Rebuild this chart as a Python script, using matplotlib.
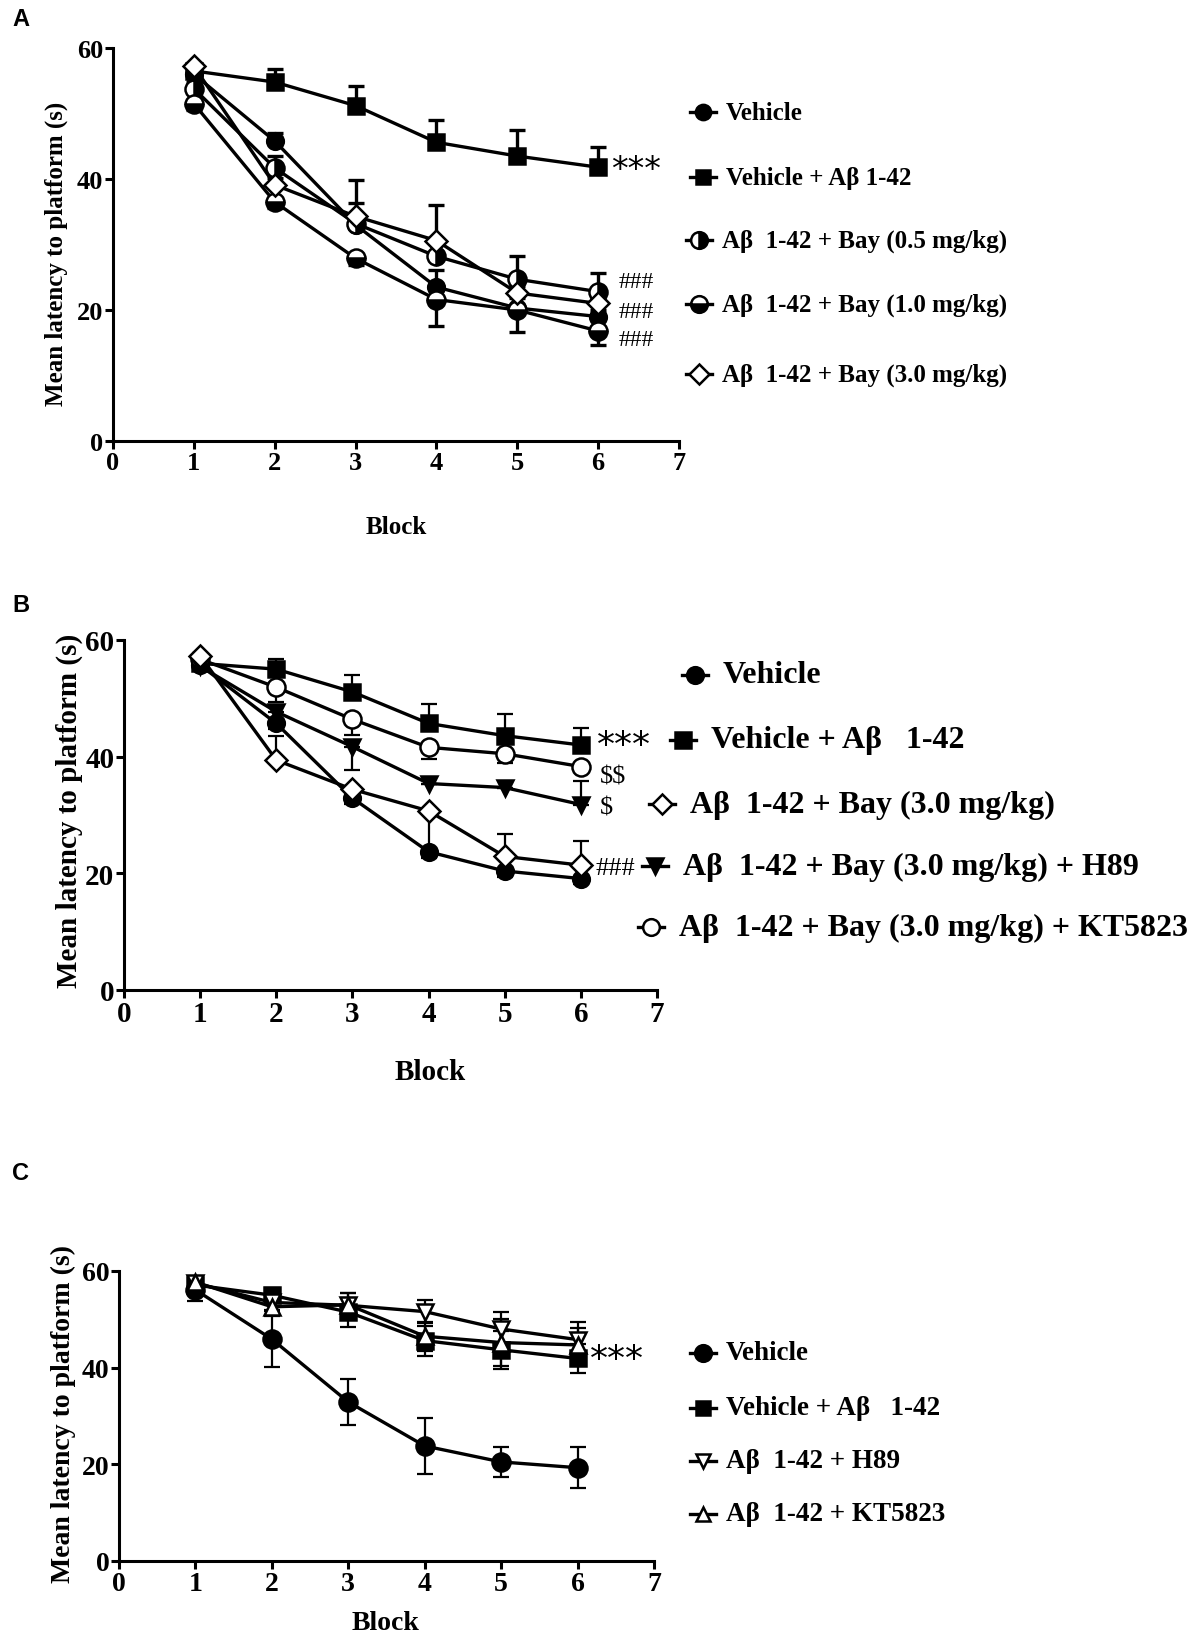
import matplotlib
matplotlib.use("Agg")
import matplotlib.pyplot as plt
from matplotlib.lines import Line2D

plt.rcParams["text.parse_math"] = False

W, H = 1200, 1649
SERIF = "Liberation Serif"

blocks = [1, 2, 3, 4, 5, 6]

# ---------------- Panel A data ----------------
A_vehicle = [56.0, 45.8, 33.0, 23.5, 20.3, 19.0]
A_vehicle_up = [0.8, 1.2, 1.5, 2.6, 1.5, 1.0]
A_abeta = [56.5, 54.8, 51.2, 45.6, 43.5, 41.8]
A_abeta_up = [0.6, 2.0, 3.0, 3.4, 4.0, 3.1]
A_bay05 = [53.8, 41.7, 33.2, 28.2, 24.7, 22.8]
A_bay05_up = [1.0, 1.8, 6.6, 2.0, 3.6, 2.8]
A_bay10 = [51.5, 36.5, 27.9, 21.6, 20.0, 16.8]
A_bay10_dn = [1.0, 1.0, 1.0, 4.0, 3.3, 2.1]
A_bay30 = [57.2, 39.1, 34.3, 30.6, 22.6, 21.0]
A_bay30_up = [0.5, 1.0, 2.0, 5.4, 1.0, 1.0]

# ---------------- Panel B data ----------------
B_vehicle = [55.7, 45.7, 32.9, 23.7, 20.4, 19.1]
B_vehicle_dn = [0.5, 1.0, 1.0, 1.0, 1.0, 1.0]
B_abeta = [56.0, 55.0, 51.1, 45.7, 43.6, 42.0]
B_abeta_up = [0.6, 1.7, 2.9, 3.3, 3.8, 3.0]
B_bay30 = [57.3, 39.4, 34.4, 30.7, 22.9, 21.4]
B_bay30_up = [0.5, 4.1, 0.0, 0.0, 3.8, 4.1]
B_bay30_dn = [0.0, 0.0, 0.0, 6.8, 0.0, 0.0]
B_h89 = [55.5, 47.7, 41.7, 35.4, 34.7, 31.8]
B_h89_up = [0.0, 0.0, 0.0, 0.0, 0.0, 4.0]
B_h89_dn = [0.0, 2.5, 4.0, 0.0, 0.0, 0.0]
B_kt = [56.7, 51.9, 46.4, 41.6, 40.5, 38.3]
B_kt_dn = [0.0, 2.5, 2.7, 2.0, 1.6, 0.0]

# ---------------- Panel C data ----------------
C_vehicle = [56.1, 45.9, 32.9, 23.8, 20.5, 19.3]
C_vehicle_err = [2.4, 5.8, 4.7, 5.8, 3.1, 4.2]
C_abeta = [57.1, 55.0, 51.5, 45.6, 43.7, 41.9]
C_abeta_err = [1.0, 1.5, 3.0, 3.1, 3.9, 3.0]
C_h89 = [57.5, 53.5, 52.9, 51.6, 48.0, 45.8]
C_h89_err = [1.0, 1.5, 2.5, 2.4, 3.5, 3.6]
C_kt = [57.7, 52.6, 53.0, 46.5, 45.2, 44.7]
C_kt_err = [1.0, 2.0, 2.5, 3.0, 4.9, 3.5]

x_ticks = [0, 1, 2, 3, 4, 5, 6, 7]
y_ticks = [0, 20, 40, 60]
y_label = "Mean latency to platform (s)"
x_label = "Block"

fig = plt.figure(figsize=(W / 100, H / 100), dpi=100)


def fx(x):
    return x / W


def fy(y):
    return 1 - y / H


def make_ax(l, r, t, b, tick_fs):
    ax = fig.add_axes([fx(l), fy(b), fx(r - l), (b - t) / H])
    ax.set_xlim(0, 7)
    ax.set_ylim(0, 60)
    ax.set_xticks(x_ticks)
    ax.set_yticks(y_ticks)
    for s in ("top", "right"):
        ax.spines[s].set_visible(False)
    for s in ("left", "bottom"):
        ax.spines[s].set_linewidth(2.2)
    ax.tick_params(direction="out", length=6, width=2.2, pad=1)
    for lab in ax.get_xticklabels() + ax.get_yticklabels():
        lab.set_fontfamily(SERIF)
        lab.set_fontweight("bold")
        lab.set_fontsize(tick_fs)
    return ax


def series(ax, y, lo, hi, marker, ms, fill="full", face="black", lw=2.4, elw=1.6, z=3):
    ax.errorbar(blocks, y, yerr=[lo, hi], fmt="none", ecolor="black",
                elinewidth=elw, capsize=6, capthick=elw, zorder=z)
    ax.plot(blocks, y, color="black", lw=lw, marker=marker, ms=ms,
            fillstyle=fill, markerfacecolor=face, markerfacecoloralt="white",
            markeredgecolor="black", markeredgewidth=1.8, zorder=z + 0.5,
            clip_on=False)


def legend_entry(xm, y, text, fs, marker, ms, fill="full", face="black", xt=None):
    ln = Line2D([fx(xm - 13), fx(xm + 13)], [fy(y), fy(y)], color="black", lw=2.4,
                transform=fig.transFigure)
    fig.add_artist(ln)
    mk = Line2D([fx(xm)], [fy(y)], marker=marker, ms=ms, fillstyle=fill,
                markerfacecolor=face, markerfacecoloralt="white",
                markeredgecolor="black", markeredgewidth=1.8, lw=0,
                transform=fig.transFigure)
    fig.add_artist(mk)
    if xt is None:
        xt = xm + 23
    fig.text(fx(xt), fy(y), text, fontsize=fs, fontfamily=SERIF,
             fontweight="bold", va="center", ha="left")


zeros = [0] * 6

# ================= Panel A =================
axA = make_ax(113, 679, 49, 442, 19)
series(axA, A_vehicle, zeros, A_vehicle_up, "o", 12, elw=2.4)
series(axA, A_abeta, zeros, A_abeta_up, "s", 11, elw=2.4)
series(axA, A_bay05, zeros, A_bay05_up, "o", 13, fill="right", elw=2.4)
series(axA, A_bay10, A_bay10_dn, zeros, "o", 13, fill="bottom", elw=2.4)
series(axA, A_bay30, zeros, A_bay30_up, "D", 11, face="white", elw=2.4)

fig.text(fx(56), fy(254), y_label, rotation=90, fontsize=18, fontfamily=SERIF,
         fontweight="bold", ha="center", va="center")
fig.text(fx(396), fy(528), x_label, fontsize=18, fontfamily=SERIF,
         fontweight="bold", ha="center", va="center")
fig.text(fx(12), fy(20), "A", fontsize=17, fontfamily="Liberation Sans",
         fontweight="bold", ha="left", va="center")

fig.text(fx(611), fy(170), "***", fontsize=24, fontfamily="DejaVu Sans",
         ha="left", va="center")
for yy in (283, 313, 341):
    fig.text(fx(619), fy(yy), "###", fontsize=17, fontfamily=SERIF,
             ha="left", va="center")

legA = [
    (113, "Vehicle", "o", 11, "full", "black"),
    (178, "Vehicle + A\u03b2 1-42", "s", 10, "full", "black"),
    (241, "A\u03b2  1-42 + Bay (0.5 mg/kg)", "o", 12, "right", "black"),
    (305, "A\u03b2  1-42 + Bay (1.0 mg/kg)", "o", 12, "bottom", "black"),
    (375, "A\u03b2  1-42 + Bay (3.0 mg/kg)", "D", 10, "full", "white"),
]
for i, (yy, t, m, ms, fill, face) in enumerate(legA):
    xm = 703 if i < 2 else 699
    legend_entry(xm, yy, t, 18, m, ms, fill, face, xt=726 if i < 2 else 722)

# ================= Panel B =================
axB = make_ax(124, 657, 641, 991, 21)
series(axB, B_vehicle, B_vehicle_dn, zeros, "o", 12)
series(axB, B_abeta, zeros, B_abeta_up, "s", 12)
series(axB, B_kt, B_kt_dn, zeros, "o", 13, face="white")
series(axB, B_h89, B_h89_dn, B_h89_up, "v", 12)
series(axB, B_bay30, B_bay30_dn, B_bay30_up, "D", 11, face="white")

fig.text(fx(69), fy(811), y_label, rotation=90, fontsize=21, fontfamily=SERIF,
         fontweight="bold", ha="center", va="center")
fig.text(fx(430), fy(1073), x_label, fontsize=21, fontfamily=SERIF,
         fontweight="bold", ha="center", va="center")
fig.text(fx(12), fy(606), "B", fontsize=17, fontfamily="Liberation Sans",
         fontweight="bold", ha="left", va="center")

fig.text(fx(597), fy(746), "***", fontsize=26, fontfamily="DejaVu Sans",
         ha="left", va="center")
fig.text(fx(600), fy(778), "$$", fontsize=19, fontfamily=SERIF, ha="left", va="center")
fig.text(fx(600), fy(808), "$", fontsize=19, fontfamily=SERIF, ha="left", va="center")
fig.text(fx(596), fy(869), "###", fontsize=19, fontfamily=SERIF, ha="left", va="center")

legB = [
    (695, 676, "Vehicle", "o", 12, "full", "black"),
    (683, 741, "Vehicle + A\u03b2   1-42", "s", 11, "full", "black"),
    (662, 805, "A\u03b2  1-42 + Bay (3.0 mg/kg)", "D", 10, "full", "white"),
    (655, 867, "A\u03b2  1-42 + Bay (3.0 mg/kg) + H89", "v", 11, "full", "black"),
    (651, 928, "A\u03b2  1-42 + Bay (3.0 mg/kg) + KT5823", "o", 12, "full", "white"),
]
for xm, yy, t, m, ms, fill, face in legB:
    legend_entry(xm, yy, t, 23, m, ms, fill, face, xt=xm + 28)

# ================= Panel C =================
axC = make_ax(119, 654, 1272, 1562, 20)
series(axC, C_vehicle, C_vehicle_err, C_vehicle_err, "o", 13, elw=1.6)
series(axC, C_abeta, C_abeta_err, C_abeta_err, "s", 11, elw=1.6)
series(axC, C_h89, C_h89_err, C_h89_err, "v", 12, face="white", elw=1.6)
series(axC, C_kt, C_kt_err, C_kt_err, "^", 12, face="white", elw=1.6)

fig.text(fx(63), fy(1414), y_label, rotation=90, fontsize=20, fontfamily=SERIF,
         fontweight="bold", ha="center", va="center")
fig.text(fx(385), fy(1624), x_label, fontsize=20, fontfamily=SERIF,
         fontweight="bold", ha="center", va="center")
fig.text(fx(12), fy(1173), "C", fontsize=17, fontfamily="Liberation Sans",
         fontweight="bold", ha="left", va="center")

fig.text(fx(590), fy(1360), "***", fontsize=26, fontfamily="DejaVu Sans",
         ha="left", va="center")

legC = [
    (1354, "Vehicle", "o", 12, "full", "black"),
    (1409, "Vehicle + A\u03b2   1-42", "s", 10, "full", "black"),
    (1462, "A\u03b2  1-42 + H89", "v", 10, "full", "white"),
    (1515, "A\u03b2  1-42 + KT5823", "^", 10, "full", "white"),
]
for yy, t, m, ms, fill, face in legC:
    legend_entry(703, yy, t, 19.5, m, ms, fill, face, xt=726)

fig.savefig("out.png", dpi=100, facecolor="white")
